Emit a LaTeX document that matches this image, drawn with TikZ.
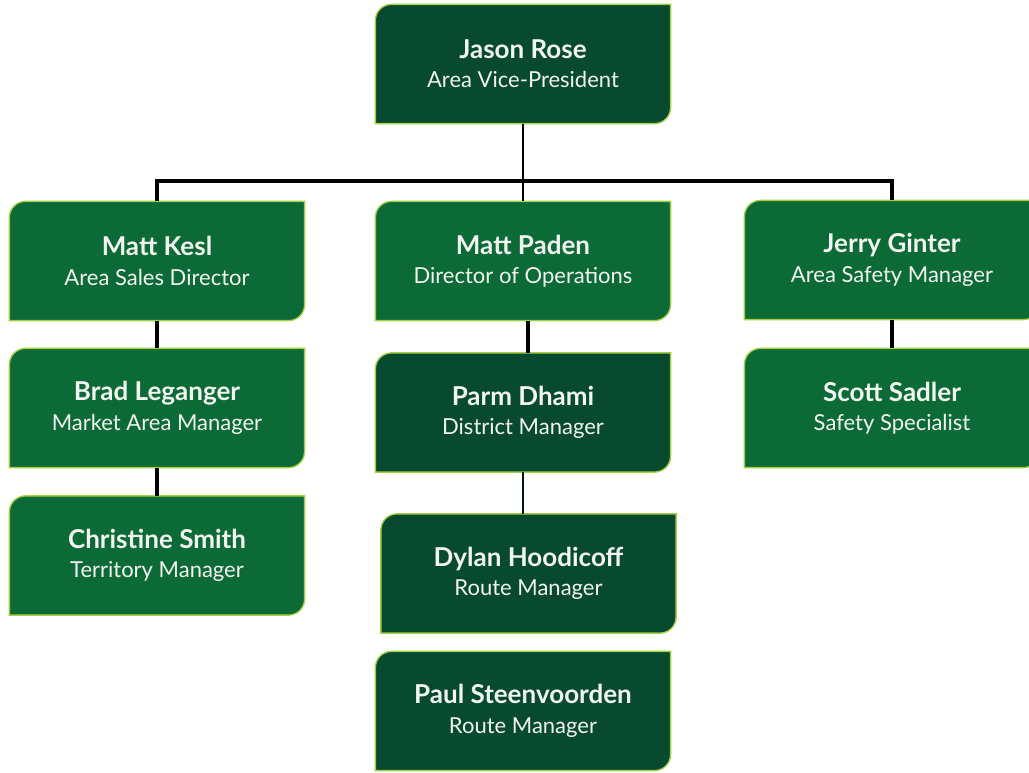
\documentclass[tikz,border=0pt]{standalone}
\usepackage{fontspec}
\setmainfont{Lato}
\usetikzlibrary{backgrounds}

\definecolor{deepgreen}{HTML}{074A2F}
\definecolor{midgreen}{HTML}{0C6A37}
\definecolor{rimgreen}{HTML}{A4CF45}
\definecolor{cardtext}{HTML}{F2F7F1}

\tikzset{
	card/.style={minimum width=221pt, minimum height=89pt, inner sep=0pt,
		text=cardtext, align=center, font=\fontsize{16.5}{22}\selectfont},
	link/.style={line width=2.8pt},
	thinlink/.style={line width=1.1pt}
}

% one box of the chart: id, position, fill, name, role
\newcommand{\card}[5]{%
	\node[card] (#1) at (#2) {{\fontsize{19.5}{22}\selectfont\bfseries #4}\\#5};
	\begin{scope}[on background layer]
		\filldraw[fill=#3, draw=rimgreen, line width=1pt]
			(#1.north east) -- ([xshift=12pt]#1.north west)
			arc[start angle=90, end angle=180, radius=12pt]
			-- (#1.south west) -- ([xshift=-12pt]#1.south east)
			arc[start angle=270, end angle=360, radius=12pt] -- cycle;
	\end{scope}
}

\begin{document}
\begin{tikzpicture}[x=0.75pt, y=-0.75pt]
	\useasboundingbox (0,0) rectangle (1029,773);

	\card{jason}{523,64}{deepgreen}{Jason Rose}{Area Vice-President}
	\card{kesl}{157,261}{midgreen}{Matt Kesl}{Area Sales Director}
	\card{paden}{523,261}{midgreen}{Matt Paden}{Director of Operations}
	\card{ginter}{892,260}{midgreen}{Jerry Ginter}{Area Safety Manager}
	\card{leganger}{157,408}{midgreen}{Brad Leganger}{Market Area Manager}
	\card{smith}{157,555.5}{midgreen}{Christine Smith}{Territory Manager}
	\card{dhami}{523,412.5}{deepgreen}{Parm Dhami}{District Manager}
	\card{hoodicoff}{528.5,573.5}{deepgreen}{Dylan Hoodicoff}{Route Manager}
	\card{steenvoorden}{523,711}{deepgreen}{Paul Steenvoorden}{Route Manager}
	\card{sadler}{892,408}{midgreen}{Scott Sadler}{Safety Specialist}

	\coordinate (bus) at (0,181);

	\draw[thinlink] (jason.south) -- (paden.north);
	\draw[link] (kesl.north) -- (kesl.north |- bus) -- (ginter.north |- bus) -- (ginter.north);

	\begin{scope}[link]
		\draw (kesl.south) -- (leganger.north);
		\draw (leganger.south) -- (smith.north);
		\draw ([xshift=4pt]paden.south) -- ([xshift=4pt]dhami.north);
		\draw (ginter.south) -- (sadler.north);
	\end{scope}

	\draw[thinlink, draw=black!70!deepgreen] (dhami.south) -- (dhami.south |- hoodicoff.north);
\end{tikzpicture}
\end{document}
